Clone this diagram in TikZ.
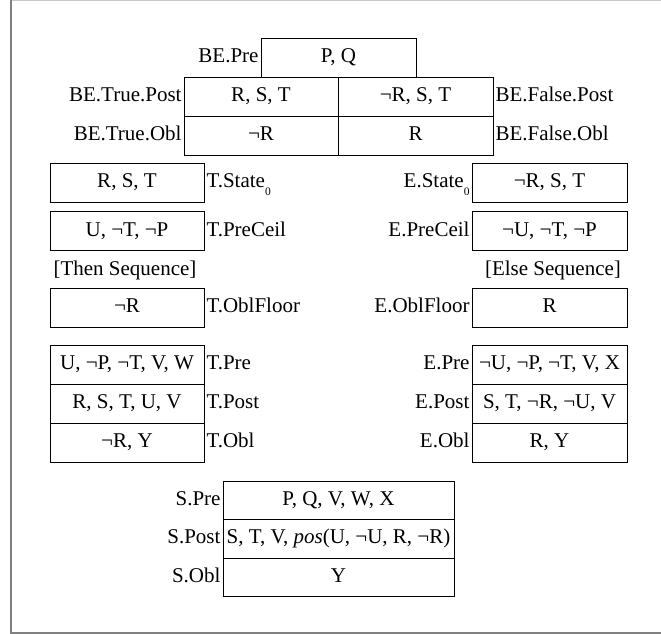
\documentclass[tikz,border=0pt]{standalone}
\usepackage{fontspec}
\setmainfont{Liberation Serif}
\newcommand{\subz}{\raisebox{-7.5pt}{\fontsize{11.5}{11.5}\selectfont 0}}
\begin{document}
\begin{tikzpicture}[x=1pt,y=-1pt,
  txt/.style={text height=14.2pt,text depth=4.2pt,font=\fontsize{21}{25}\selectfont},
  cell/.style={txt,draw=black,line width=0.9pt,minimum width=154pt,minimum height=39pt,inner sep=0pt,outer sep=0pt},
  lab/.style={txt,inner sep=2.5pt,outer sep=0pt},
  frame/.style={draw=black!50,line width=2pt},
  topline/.style={draw=black!22,line width=1pt}]
\useasboundingbox (0,0) rectangle (661,634);
% frame
\draw[topline] (11,0.5) -- (661,0.5);
\draw[frame] (11,0) -- (11,633) -- (661,633);
% BE
\node[cell,minimum width=155pt] (bepre) at (338.5,57.5) {P, Q};
\node[cell] (btp) at (261,96.5) {R, S, T};
\node[cell,minimum width=155pt] (bfp) at (415.5,96.5) {¬R, S, T};
\node[cell] (bto) at (261,135.5) {¬R};
\node[cell,minimum width=155pt] (bfo) at (415.5,135.5) {R};
\node[lab,anchor=east] (lbepre) at (bepre.west) {BE.Pre};
\node[lab,anchor=east] (lbtp) at (btp.west) {BE.True.Post};
\node[lab,anchor=east] (lbto) at (bto.west) {BE.True.Obl};
\node[lab,anchor=west] (lbfp) at (bfp.east) {BE.False.Post};
\node[lab,anchor=west] (lbfo) at (bfo.east) {BE.False.Obl};
% Then side
\node[cell] (tst) at (127,182.5) {R, S, T};
\node[cell] (tpc) at (127,231) {U, ¬T, ¬P};
\node[txt] (tseq) at (125,270) {[Then Sequence]};
\node[cell] (tof) at (127,307.5) {¬R};
\node[cell] (tpre) at (127,364.5) {U, ¬P, ¬T, V, W};
\node[cell] (tpost) at (127,403.5) {R, S, T, U, V};
\node[cell] (tobl) at (127,442.5) {¬R, Y};
\node[lab,anchor=west] (ltst) at (tst.east) {T.State\subz};
\node[lab,anchor=west] (ltpc) at (tpc.east) {T.PreCeil};
\node[lab,anchor=west] (ltof) at (tof.east) {T.OblFloor};
\node[lab,anchor=west] (ltpre) at (tpre.east) {T.Pre};
\node[lab,anchor=west] (ltpost) at (tpost.east) {T.Post};
\node[lab,anchor=west] (ltobl) at (tobl.east) {T.Obl};
% Else side
\node[cell,minimum width=155pt] (est) at (549.5,182.5) {¬R, S, T};
\node[cell,minimum width=155pt] (epc) at (549.5,231) {¬U, ¬T, ¬P};
\node[txt] (eseq) at (553,270) {[Else Sequence]};
\node[cell,minimum width=155pt] (eof) at (549.5,307.5) {R};
\node[cell,minimum width=155pt] (epre) at (549.5,364.5) {¬U, ¬P, ¬T, V, X};
\node[cell,minimum width=155pt] (epost) at (549.5,403.5) {S, T, ¬R, ¬U, V};
\node[cell,minimum width=155pt] (eobl) at (549.5,442.5) {R, Y};
\node[lab,anchor=east] (lest) at (est.west) {E.State\subz};
\node[lab,anchor=east] (lepc) at (epc.west) {E.PreCeil};
\node[lab,anchor=east] (leof) at (eof.west) {E.OblFloor};
\node[lab,anchor=east] (lepre) at (epre.west) {E.Pre};
\node[lab,anchor=east] (lepost) at (epost.west) {E.Post};
\node[lab,anchor=east] (leobl) at (eobl.west) {E.Obl};
% S table
\node[cell,minimum width=231pt,minimum height=38.5pt] (spre) at (338.5,500.25) {P, Q, V, W, X};
\node[cell,minimum width=231pt,minimum height=38.5pt] (spost) at (338.5,538.75) {S, T, V, \textit{pos}(U, ¬U, R, ¬R)};
\node[cell,minimum width=231pt,minimum height=38.5pt] (sobl) at (338.5,577.25) {Y};
\node[lab,anchor=east] (lspre) at (spre.west) {S.Pre};
\node[lab,anchor=east] (lspost) at (spost.west) {S.Post};
\node[lab,anchor=east] (lsobl) at (sobl.west) {S.Obl};
\end{tikzpicture}
\end{document}
